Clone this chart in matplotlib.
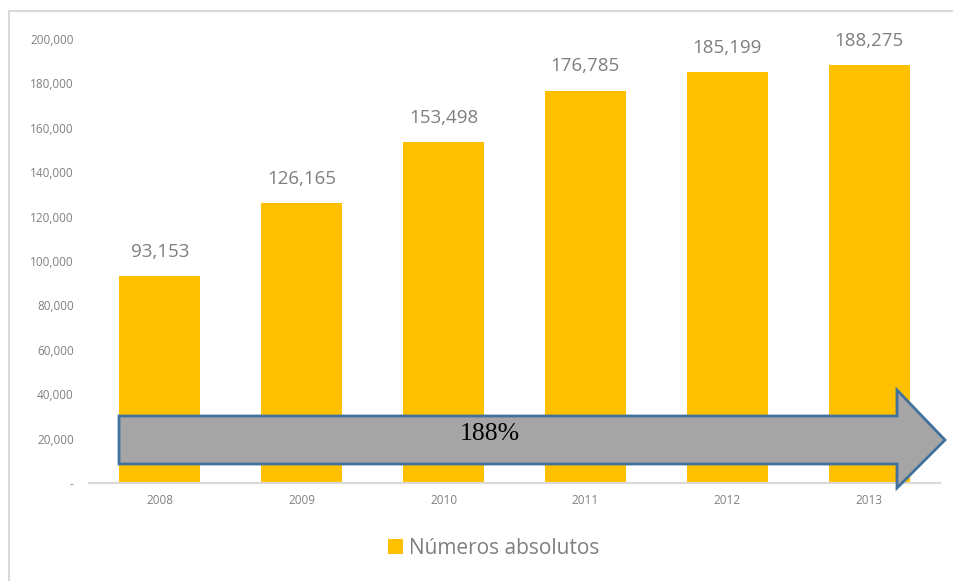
import matplotlib
matplotlib.use('Agg')
import matplotlib.pyplot as plt
from matplotlib.patches import Polygon, Rectangle
from matplotlib.ticker import FuncFormatter

years = ['2008', '2009', '2010', '2011', '2012', '2013']
values = [93153, 126165, 153498, 176785, 185199, 188275]
series_name = 'Números absolutos'
growth_label = '188%'

bar_color = '#FFC000'
text_gray = '#7F7F7F'
W, H = 954, 581

fig = plt.figure(figsize=(W / 100, H / 100), dpi=100)
plt.rcParams['font.family'] = ['Open Sans', 'DejaVu Sans']

# chart frame (only top/left visible in the reference)
fig.patches.append(Rectangle((9 / W, -0.1), 1.2, 1 - 11 / H + 0.1, transform=fig.transFigure,
                             fill=False, edgecolor='#D9D9D9', lw=1.5))

ax = fig.add_axes([89 / W, 1 - 483 / H, (940 - 89) / W, (483 - 39) / H])
x = range(len(years))
bars = ax.bar(x, values, width=0.57, color=bar_color, label=series_name, zorder=2)
ax.set_xlim(-0.5, len(years) - 0.5)
ax.set_ylim(0, 200000)
ax.set_yticks(range(0, 200001, 20000))
ax.yaxis.set_major_formatter(FuncFormatter(lambda v, p: '-' if v == 0 else f'{int(v):,}'))
ax.set_xticks(list(x))
ax.set_xticklabels(years)
ax.tick_params(axis='both', length=0, labelsize=8.5, labelcolor='#808080')
ax.tick_params(axis='y', pad=11)
ax.tick_params(axis='x', pad=8)
for s in ['top', 'right', 'left']:
    ax.spines[s].set_visible(False)
ax.spines['bottom'].set_color('#D9D9D9')
ax.spines['bottom'].set_linewidth(1.5)

for b, v in zip(bars, values):
    ax.annotate(f'{v:,}', (b.get_x() + b.get_width() / 2, v), xytext=(0, 11),
                textcoords='offset points', ha='center', va='bottom',
                fontsize=13.5, color=text_gray)

# big growth arrow over the bars
def fp(px, py):
    return (px / W, 1 - py / H)

arrow_pts = [fp(119, 416), fp(897, 416), fp(897, 390), fp(945, 440),
             fp(897, 488), fp(897, 464), fp(119, 464)]
fig.patches.append(Polygon(arrow_pts, closed=True, transform=fig.transFigure,
                           facecolor='#A5A5A5', edgecolor='#41719C', lw=2, zorder=5))
fig.text(490 / W, 1 - 434 / H, growth_label, ha='center', va='center',
         fontsize=18.5, family=['Liberation Serif'], color='black', zorder=6)

fig.legend(handles=[bars], labels=[series_name], loc='center', bbox_to_anchor=(494 / W, 1 - 548 / H),
           frameon=False, fontsize=15, handlelength=0.7, handleheight=0.7, handletextpad=0.3,
           labelcolor=text_gray)

fig.savefig('out.png', dpi=100)
